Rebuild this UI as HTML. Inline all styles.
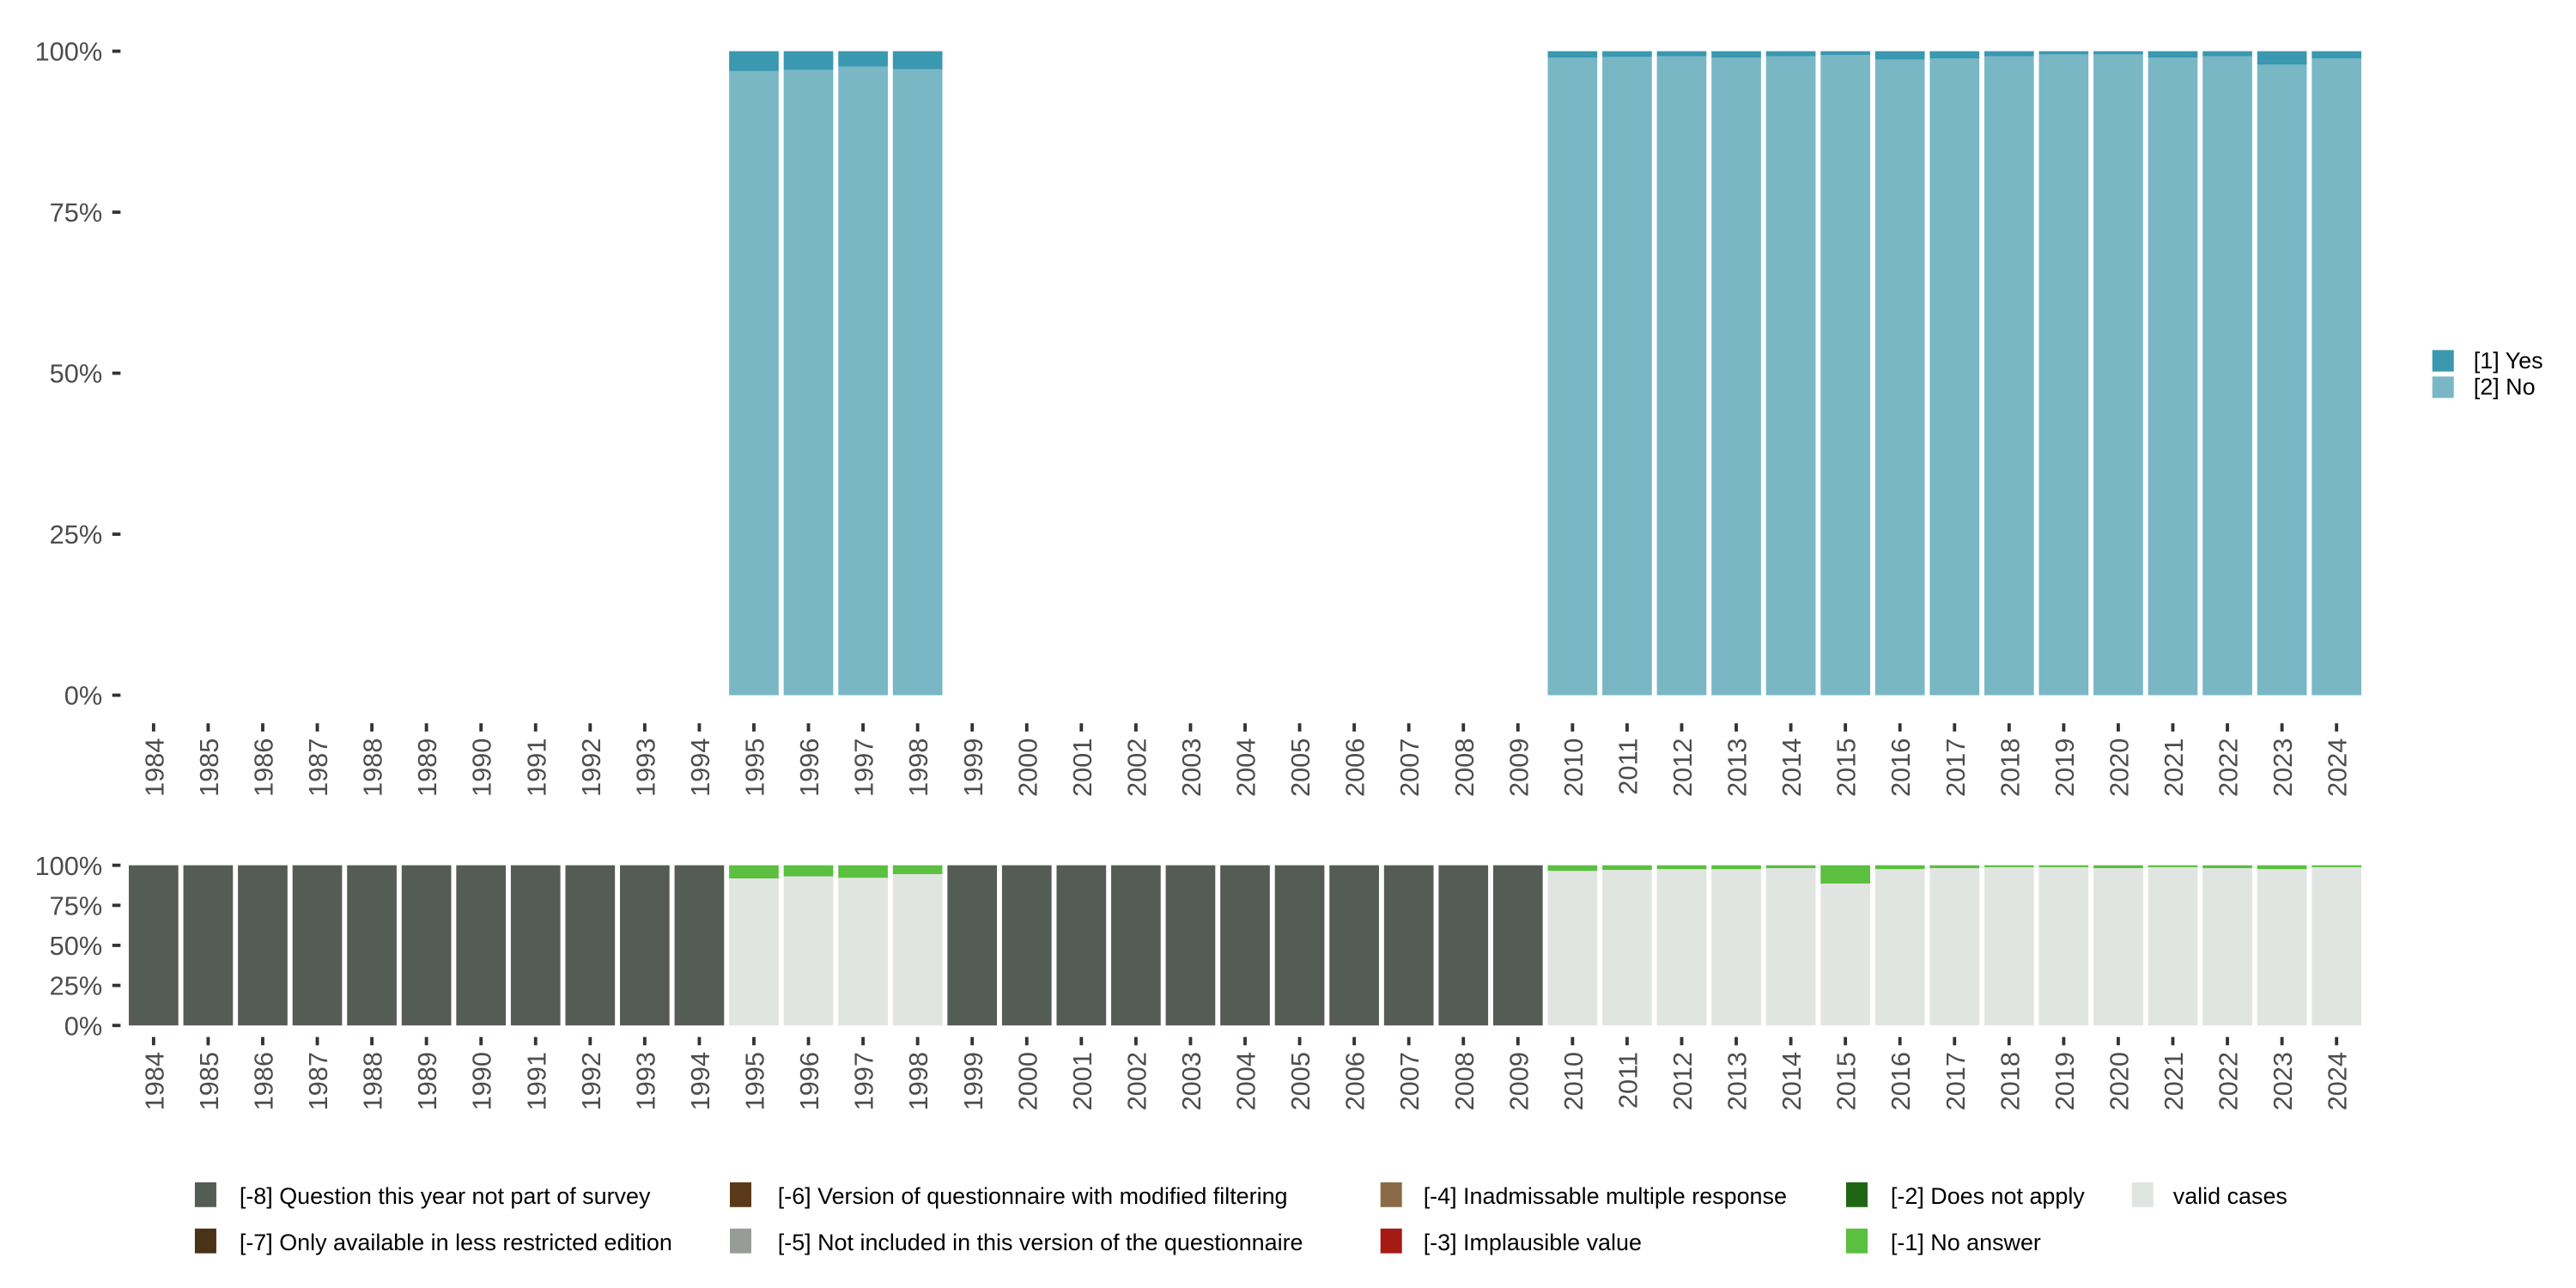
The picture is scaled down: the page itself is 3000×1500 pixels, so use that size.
<!DOCTYPE html>
<html><head><meta charset="utf-8"><style>
html,body{margin:0;padding:0;background:#fff}
svg{display:block;font-family:"Liberation Sans",sans-serif}
</style></head><body>
<svg id="chart" width="3000" height="1500" viewBox="0 0 1560 780" xmlns="http://www.w3.org/2000/svg">
<g id="topPanel"></g>
<g id="botPanel"></g>
<g id="legPanel"></g>
</svg>
<script>
const years = [];
for (let y = 1984; y <= 2024; y++) years.push(y);
const surveyedYears = [1995,1996,1997,1998,2010,2011,2012,2013,2014,2015,2016,2017,2018,2019,2020,2021,2022,2023,2024];
const yesPct = [3.1,2.9,2.4,2.8,1.0,0.9,0.8,1.0,0.8,0.6,1.3,1.15,0.8,0.5,0.5,1.0,0.8,2.1,1.15];
const noAnswerPct = [8.2,6.9,7.8,5.5,3.5,2.9,2.4,2.4,1.8,11.4,2.4,1.8,1.2,1.2,1.8,1.2,1.8,2.4,1.2];
const yTicks = [0,25,50,75,100];
const yTickLabels = ["0%","25%","50%","75%","100%"];

const NS="http://www.w3.org/2000/svg";
function mk(tag, attrs, parent){const e=document.createElementNS(NS,tag);for(const k in attrs)e.setAttribute(k,attrs[k]);parent.appendChild(e);return e;}
const x0=93, step=(1415-93)/40, bw=30;
function xs(yr){return x0+(yr-1984)*step;}
function panel(g, yTop, yBot, fs, tickY, labY){
  const ys=v=>yBot-(v/100)*(yBot-yTop);
  yTicks.forEach((t,i)=>{
    const l=mk('line',{x1:68,x2:73,y1:ys(t),y2:ys(t),stroke:'#333','stroke-width':2},g);
    
    
    const tx=mk('text',{x:62,y:ys(t)+fs*0.36,'text-anchor':'end','font-size':fs,fill:'#4d4d4d'},g);
    tx.textContent=yTickLabels[i];
    
    
  });
  years.forEach(yr=>{
    const x=xs(yr);
    const l=mk('line',{x1:x,x2:x,y1:tickY,y2:tickY+5,stroke:'#333','stroke-width':2},g);
    
    
    const t=mk('text',{x:0,y:0,'text-anchor':'end','font-size':16,fill:'#4d4d4d',transform:`translate(${x+6},${labY}) rotate(-90)`},g);
    t.textContent=yr;
    
    
  });
  return ys;
}
const topG=document.getElementById('topPanel');
const ysT=panel(topG,31,421,16,438,447);
surveyedYears.forEach((yr,i)=>{
  const x=xs(yr)-bw/2;
  const no=mk('rect',{x:x,width:bw,y:ysT(100-yesPct[i]),height:ysT(0)-ysT(100-yesPct[i]),fill:'#79b7c5'},topG);
  
  
  const ye=mk('rect',{x:x,width:bw,y:ysT(100),height:ysT(100-yesPct[i])-ysT(100),fill:'#3a98b0'},topG);
  
  
});
const botG=document.getElementById('botPanel');
const ysB=panel(botG,524,621,16,628,637);
years.forEach(yr=>{
  const x=xs(yr)-bw/2;
  const i=surveyedYears.indexOf(yr);
  if(i<0){
    const r=mk('rect',{x:x,width:bw,y:ysB(100),height:ysB(0)-ysB(100),fill:'#555b55'},botG);
    
    
  } else {
    const v=mk('rect',{x:x,width:bw,y:ysB(100-noAnswerPct[i]),height:ysB(0)-ysB(100-noAnswerPct[i]),fill:'#e1e5e1'},botG);
    
    
    const n=mk('rect',{x:x,width:bw,y:ysB(100),height:ysB(100-noAnswerPct[i])-ysB(100),fill:'#5bbf3f'},botG);
    
    
  }
});
const legG=document.getElementById('legPanel');
const topLeg=[["[1] Yes","#3a98b0",212],["[2] No","#79b7c5",228]];
topLeg.forEach(d=>{
  const r=mk('rect',{x:1473,y:d[2],width:13,height:13,fill:d[1]},legG);
  
  
  const t=mk('text',{x:1498,y:d[2]+11,'font-size':14,fill:'#000'},legG);
  t.textContent=d[0];
  
  
});
const botLeg=[
 ["[-8] Question this year not part of survey","#555b55",118,145,724],
 ["[-7] Only available in less restricted edition","#4a3219",118,145,752],
 ["[-6] Version of questionnaire with modified filtering","#5a3a18",442,471,724],
 ["[-5] Not included in this version of the questionnaire","#989c96",442,471,752],
 ["[-4] Inadmissable multiple response","#8b6a48",836,862,724],
 ["[-3] Implausible value","#a51a14",836,862,752],
 ["[-2] Does not apply","#1f6614",1118,1145,724],
 ["[-1] No answer","#5bbf3f",1118,1145,752],
 ["valid cases","#e1e5e1",1291,1316,724]];
botLeg.forEach(d=>{
  const r=mk('rect',{x:d[2],y:d[4]-8,width:13,height:15,fill:d[1]},legG);
  
  
  const t=mk('text',{x:d[3],y:d[4]+5,'font-size':14,fill:'#000'},legG);
  t.textContent=d[0];
  
  
});
</script>
</body></html>
